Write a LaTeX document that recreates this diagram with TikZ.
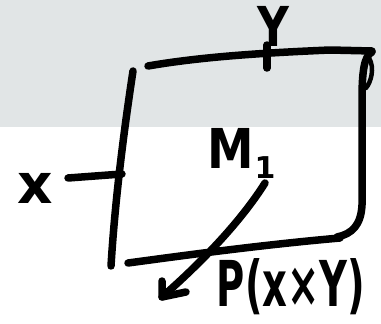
\documentclass[tikz,border=0pt]{standalone}
\usepackage{fontspec}
\setmainfont{DejaVu Sans}
\definecolor{bandgray}{RGB}{225,229,230}
\tikzset{
  ink/.style={line width=7.5pt, line cap=round, line join=round, draw=black},
  hand/.style={font=\fontsize{55}{55}\selectfont\bfseries, inner sep=0pt, text=black}
}
\begin{document}
\begin{tikzpicture}[x=1pt,y=-1pt]
\useasboundingbox (0,0) rectangle (381,324);
\fill[bandgray] (0,0) rectangle (381,127);
% set (rectangle)
\draw[ink] (148,66) .. controls (200,57) and (260,53) .. (330,50) -- (372,51);
\draw[ink] (372,52) .. controls (364,56) and (362,72) .. (362,100) -- (362,205) .. controls (361,225) and (352,234) .. (337,237);
\draw[ink, line width=4.5pt] (369,58) .. controls (375,68) and (371,82) .. (366,88);
\draw[ink] (133,71) .. controls (124,130) and (115,200) .. (111,266);
\draw[ink] (128,263) .. controls (180,256) and (260,245) .. (340,238);
% ticks
\draw[ink] (68,178) -- (122,174);
\draw[ink] (267,45) -- (267,68);
% labels
\node[hand] (ylab) at (273,26) {\scalebox{0.8}[1]{Y}};
\node[hand] (xlab) at (35,188) {x};
\node[hand, anchor=base west] (mlab) at (207,168) {\scalebox{0.85}[1]{M}\kern1pt\raisebox{-10pt}{\fontsize{30}{30}\selectfont 1}};
\node[hand] (plab) at (291,287) {\scalebox{0.7}[1.15]{P(x×Y)}};
% arrow
\coordinate (astart) at (265,183);
\coordinate (atip) at (162,297);
\draw[ink] (astart) .. controls (245,215) and (210,255) .. (atip);
\draw[ink] (162,281) -- (atip) -- (186,292);
\end{tikzpicture}
\end{document}
